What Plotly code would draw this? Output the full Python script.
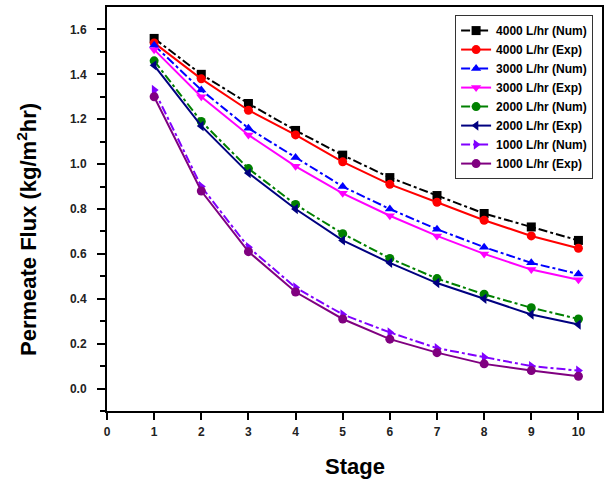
import plotly.graph_objects as go

stages = [1, 2, 3, 4, 5, 6, 7, 8, 9, 10]

num_4000 = [1.56, 1.40, 1.27, 1.15, 1.04, 0.94, 0.86, 0.78, 0.72, 0.66]
exp_4000 = [1.54, 1.38, 1.24, 1.13, 1.01, 0.91, 0.83, 0.75, 0.68, 0.625]
num_3000 = [1.53, 1.33, 1.16, 1.03, 0.90, 0.80, 0.71, 0.63, 0.56, 0.51]
exp_3000 = [1.51, 1.30, 1.13, 0.99, 0.87, 0.77, 0.68, 0.60, 0.53, 0.485]
num_2000 = [1.46, 1.19, 0.98, 0.82, 0.69, 0.58, 0.49, 0.42, 0.36, 0.31]
exp_2000 = [1.44, 1.17, 0.96, 0.80, 0.66, 0.56, 0.47, 0.40, 0.33, 0.285]
num_1000 = [1.33, 0.90, 0.63, 0.45, 0.33, 0.25, 0.18, 0.14, 0.10, 0.08]
exp_1000 = [1.30, 0.88, 0.61, 0.43, 0.31, 0.22, 0.16, 0.11, 0.08, 0.055]

series = [
    ("4000 L/hr (Num)", num_4000, "#000000", "square", "dashdot"),
    ("4000 L/hr (Exp)", exp_4000, "#ff0000", "circle", "solid"),
    ("3000 L/hr (Num)", num_3000, "#0000ff", "triangle-up", "dashdot"),
    ("3000 L/hr (Exp)", exp_3000, "#ff00ff", "triangle-down", "solid"),
    ("2000 L/hr (Num)", num_2000, "#008000", "circle", "dashdot"),
    ("2000 L/hr (Exp)", exp_2000, "#000080", "triangle-left", "solid"),
    ("1000 L/hr (Num)", num_1000, "#8000ff", "triangle-right", "dashdot"),
    ("1000 L/hr (Exp)", exp_1000, "#800080", "circle", "solid"),
]

fig = go.Figure()
for name, vals, color, symbol, dash in series:
    fig.add_trace(go.Scatter(
        x=stages, y=vals, name=name, mode="lines+markers",
        line=dict(color=color, width=2, dash=dash),
        marker=dict(color=color, symbol=symbol, size=9),
    ))

family = "Arial, Liberation Sans, sans-serif"
tick_font = dict(family=family, size=12, color="#222222", weight="bold")
title_font = dict(family=family, size=22, color="#000000", weight="bold")

# axis titles placed as paper annotations
fig.add_annotation(
    text="Stage", xref="paper", yref="paper", x=0.5, y=-0.137,
    xanchor="center", yanchor="middle", showarrow=False, font=title_font,
)
fig.add_annotation(
    text="Permeate Flux (kg/m<sup>2</sup>hr)", xref="paper", yref="paper",
    x=-0.162, y=0.45, xanchor="center", yanchor="middle", textangle=-90,
    showarrow=False, font=title_font,
)

fig.update_layout(
    width=612, height=479,
    margin=dict(l=107, r=10, t=7, b=68),
    paper_bgcolor="white", plot_bgcolor="white",
    showlegend=True,
    legend=dict(
        x=0.982, y=0.98, xanchor="right", yanchor="top",
        bgcolor="white", bordercolor="#333333", borderwidth=1,
        font=dict(family=family, size=12, color="#000000", weight="bold"),
        tracegroupgap=0, itemwidth=30,
    ),
    xaxis=dict(
        range=[0, 10.5], tickvals=list(range(0, 11)),
        ticks="outside", ticklen=7, tickwidth=2, tickcolor="black",
        ticklabelstandoff=2, automargin=False,
        showline=True, linecolor="black", linewidth=2, mirror=True,
        showgrid=False, zeroline=False,
        tickfont=tick_font,
    ),
    yaxis=dict(
        range=[-0.1, 1.7], tickvals=[0.0, 0.2, 0.4, 0.6, 0.8, 1.0, 1.2, 1.4, 1.6],
        tickformat=".1f",
        ticks="outside", ticklen=8, tickwidth=2, tickcolor="black",
        ticklabelstandoff=8, automargin=False,
        minor=dict(tickvals=[-0.1, 0.1, 0.3, 0.5, 0.7, 0.9, 1.1, 1.3, 1.5],
                   ticks="outside", ticklen=5, tickwidth=2, tickcolor="black"),
        showline=True, linecolor="black", linewidth=2, mirror=True,
        showgrid=False, zeroline=False,
        tickfont=tick_font,
    ),
)

fig.write_html("out.html")
